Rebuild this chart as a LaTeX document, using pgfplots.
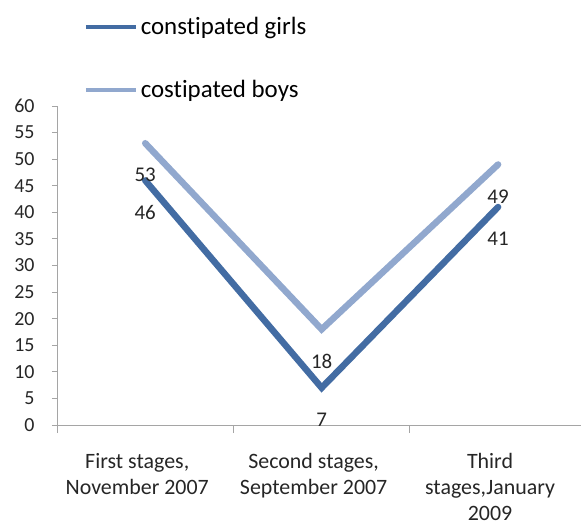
\documentclass[border=0pt]{standalone}
\usepackage{fontspec}
\setmainfont{Carlito}[Ligatures=NoCommon]
\usepackage{pgfplots}
\pgfplotsset{compat=1.18}
\definecolor{girls}{RGB}{67,108,163}
\definecolor{boys}{RGB}{145,168,206}
\definecolor{axgray}{RGB}{165,165,165}
\begin{document}
\begin{tikzpicture}
\begin{axis}[
  scale only axis, width=524bp, height=319bp,
  xmin=-0.5, xmax=2.47, ymin=0, ymax=60,
  axis lines*=left,
  axis line style={axgray, line width=0.9bp},
  ytick={0,5,...,60},
  xtick={0,1,2},
  xticklabels={{First stages,\\November 2007},{Second stages,\\September 2007},{Third\\stages,January\\2009}},
  minor xtick={-0.5,0.5,1.5},
  tick align=outside,
  major tick length=5bp,
  minor tick length=8bp,
  every tick/.style={axgray, line width=0.9bp},
  every major x tick/.append style={draw=none},
  /pgf/number format/assume math mode=true,
  yticklabel style={font=\fontsize{20}{22}\selectfont, text=black!85, xshift=-14bp},
  xticklabel style={font=\fontsize{22}{26}\selectfont, text=black!85, align=center, anchor=north, yshift=-20bp, xshift=-8bp},
  nodes near coords,
  every node near coord/.append style={font=\fontsize{21}{24}\selectfont, text=black!85, anchor=center, yshift=-32bp},
  legend style={draw=none, fill=none, at={(axis description cs:0.045,1.29)}, anchor=north west,
    row sep=40bp, font=\fontsize{25}{28}\selectfont, column sep=1bp},
  legend cell align=left,
  legend image code/.code={\draw[#1, line width=4bp, line cap=butt] (0bp,0bp) -- (50bp,0bp);},
]
\addplot[girls, line width=6.5bp, line cap=round, line join=miter] coordinates {(0,46) (1,7) (2,41)};
\addlegendentry{constipated girls}
\addplot[boys, line width=6.5bp, line cap=round, line join=miter] coordinates {(0,53) (1,18) (2,49)};
\addlegendentry{costipated boys}
\coordinate (sw) at (rel axis cs:0,0);
\end{axis}
\pgfresetboundingbox
\path (sw) ++(-57bp,-102bp) rectangle ++(581bp,527bp);
\end{tikzpicture}
\end{document}
